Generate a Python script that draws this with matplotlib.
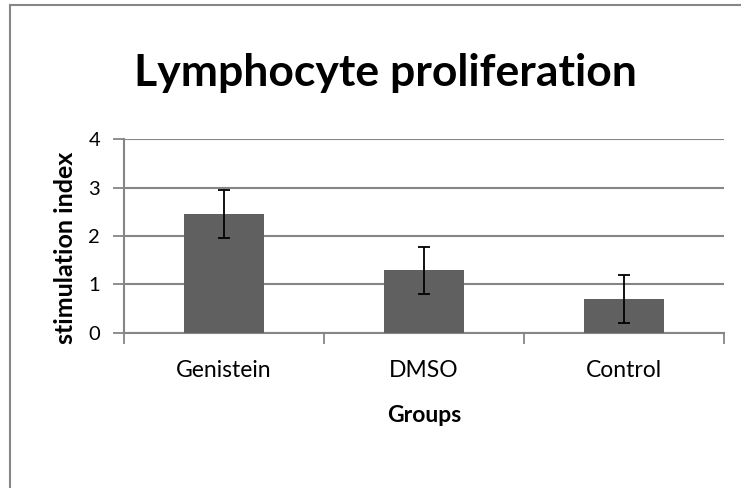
import matplotlib
matplotlib.use('Agg')
import matplotlib.pyplot as plt
import numpy as np
from matplotlib.patches import Rectangle

groups = ['Genistein', 'DMSO', 'Control']
stim_index = [2.45, 1.29, 0.69]
stim_err = [0.49, 0.49, 0.50]
y_ticks = [0, 1, 2, 3, 4]

plt.rcParams['font.family'] = ['Lato', 'DejaVu Sans']

grid_col = '#868686'
bar_col = '#606060'

fig = plt.figure(figsize=(7.41, 4.88), dpi=100)
ax = fig.add_axes([0.167, 0.3186, 0.810, 0.396])

x = np.arange(len(groups))
ax.bar(x, stim_index, 0.4, color=bar_col, zorder=3)
ax.errorbar(x, stim_index, yerr=stim_err, fmt='none', ecolor='black',
            elinewidth=1.3, capsize=4, capthick=1.3, zorder=4)

ax.set_xlim(-0.5, 2.5)
ax.set_ylim(0, 4)
ax.set_yticks(y_ticks)
ax.yaxis.grid(True, color=grid_col, lw=1.5, zorder=0)
ax.set_axisbelow(True)

ax.set_xticks(x)
ax.set_xticklabels(groups, fontsize=16.5)
ax.set_xticks(np.arange(-0.5, 3, 1), minor=True)
ax.tick_params(axis='x', which='major', length=0, pad=20)
ax.tick_params(axis='x', which='minor', length=8, color=grid_col, width=1.3)
ax.tick_params(axis='y', length=8, color=grid_col, width=1.3, labelsize=14.5, pad=9)

for s in ['top', 'right']:
    ax.spines[s].set_visible(False)
for s in ['left', 'bottom']:
    ax.spines[s].set_color(grid_col)
    ax.spines[s].set_linewidth(1.5)

ax.set_xlabel('Groups', fontsize=16.5, fontweight='bold')
ax.xaxis.set_label_coords(0.5, -0.375)
ax.set_ylabel('stimulation index', fontsize=18, fontweight='bold')
ax.yaxis.set_label_coords(-0.078, 0.44)

fig.text(0.52, 0.85, 'Lymphocyte proliferation', ha='center', va='center',
         fontsize=32, fontweight='bold')

# chart area border, only left and top visible
fig.patches.append(Rectangle((10 / 741, -0.05), 1.1, 1 - 5 / 488 + 0.05,
                             transform=fig.transFigure, fill=False,
                             edgecolor=grid_col, lw=1.5))

fig.savefig('out.png', dpi=100)
